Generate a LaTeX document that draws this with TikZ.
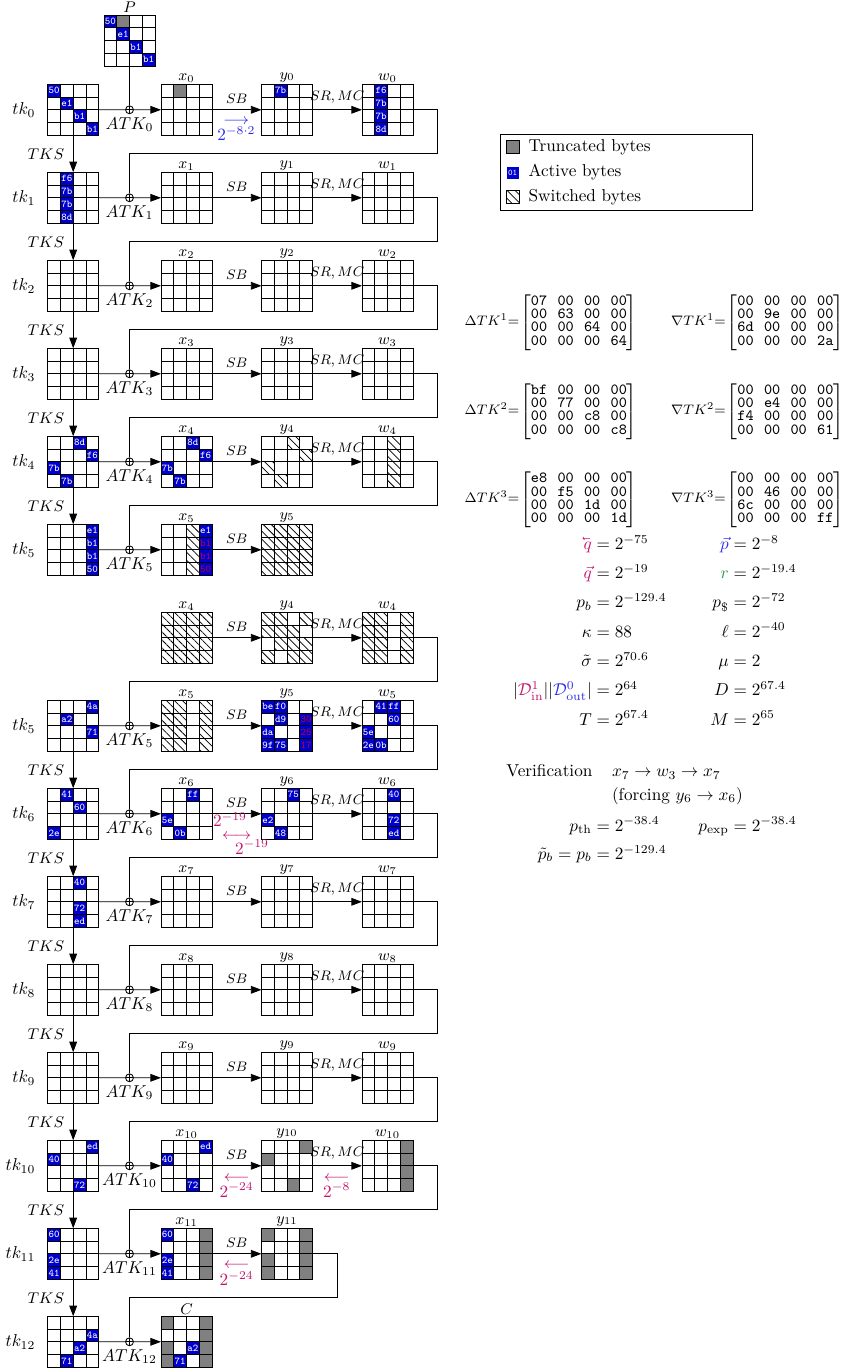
\documentclass[tikz,border=0pt]{standalone}
\usepackage{amsmath}
\usepackage{amssymb}
\usetikzlibrary{positioning, calc, arrows.meta, patterns.meta, backgrounds}
\definecolor{activeBlue}{RGB}{0,0,205}
\definecolor{truncGray}{RGB}{128,128,128}
\definecolor{probMagenta}{RGB}{196,20,110}
\definecolor{probBlue}{RGB}{45,45,235}
\definecolor{probGreen}{RGB}{40,150,80}
\definecolor{byteRed}{RGB}{190,0,45}

\newcommand{\cs}{12.75}
% 4x4 state: name, left, top
\newcommand{\stgrid}[3]{%
  \node[stbox, anchor=north west] (#1) at (#2,#3) {};
  \foreach \k in {1,2,3}{%
    \draw[gridln] ($(#1.north west)+(\k*\cs,0)$) -- ++(0,4*\cs);
    \draw[gridln] ($(#1.north west)+(0,\k*\cs)$) -- ++(4*\cs,0);
  }%
}
% cells: grid, col, row (, text)
\newcommand{\abyte}[4]{\begin{pgfonlayer}{background}
  \node[actb, anchor=north west] (#1b#2#3) at ($(#1.north west)+(#2*\cs,#3*\cs)$) {#4};
  \end{pgfonlayer}}
\newcommand{\rbyte}[4]{\begin{pgfonlayer}{background}
  \node[actb, text=byteRed, anchor=north west] (#1b#2#3) at ($(#1.north west)+(#2*\cs,#3*\cs)$) {#4};
  \end{pgfonlayer}}
\newcommand{\tbyte}[3]{\begin{pgfonlayer}{background}
  \fill[truncGray] ($(#1.north west)+(#2*\cs,#3*\cs)$) rectangle ++(\cs,\cs);
  \end{pgfonlayer}}
\newcommand{\sbyte}[3]{\begin{pgfonlayer}{background}
  \fill[hatch] ($(#1.north west)+(#2*\cs,#3*\cs)$) rectangle ++(\cs,\cs);
  \end{pgfonlayer}}
\newcommand{\abytes}[2]{\foreach \cl/\rw/\bt in {#2}{\abyte{#1}{\cl}{\rw}{\bt}}}
\newcommand{\rbytes}[2]{\foreach \cl/\rw/\bt in {#2}{\rbyte{#1}{\cl}{\rw}{\bt}}}
\newcommand{\tbytes}[2]{\foreach \cl/\rw in {#2}{\tbyte{#1}{\cl}{\rw}}}
\newcommand{\sbytes}[2]{\foreach \cl/\rw in {#2}{\sbyte{#1}{\cl}{\rw}}}
% tweakey row start: row, round, top, label of x
\newcommand{\keyrow}[4]{%
  \stgrid{tk#1}{47.7}{#3}
  \node[tklbl, left=6pt of tk#1] (tkl#1) {$tk_{#2}$};
  \node[xorb] (xr#1) at (129.5,#3+25.5) {};
  \node[atk, below=0.8pt of xr#1] (atk#1) {$ATK_{#2}$};
  \stgrid{x#1}{161}{#3}
  \node[lbl, above=0pt of x#1] (xl#1) {#4};
  \draw[link] (tk#1) -- (xr#1);
  \draw[arr] (xr#1) -- (x#1);
}
\newcommand{\mrow}[4]{\mathtt{#1}&\mathtt{#2}&\mathtt{#3}&\mathtt{#4}}
\newcommand{\lvecq}{\reflectbox{$\vec{\reflectbox{$q$}}$}}

\begin{document}
\begin{tikzpicture}[x=0.5814pt, y=-0.5814pt,
    stbox/.style={draw, line width=0.5pt, minimum size=29.65pt, inner sep=0pt, outer sep=0pt},
    gridln/.style={line width=0.4pt},
    actb/.style={fill=activeBlue, text=white, minimum size=7.41pt, inner sep=0pt, outer sep=0pt,
      font=\fontsize{6}{6}\selectfont\ttfamily},
    lbl/.style={font=\small, inner sep=1pt},
    tklbl/.style={inner sep=1pt},
    atk/.style={inner sep=1pt},
    oplbl/.style={font=\footnotesize},
    tks/.style={font=\small, inner sep=1pt},
    xorb/.style={circle, draw, line width=0.5pt, minimum size=4.6pt, inner sep=0pt,
      path picture={\draw[line width=0.4pt] (path picture bounding box.north) -- (path picture bounding box.south)
        (path picture bounding box.west) -- (path picture bounding box.east);}},
    arr/.style={-{Triangle[length=6.2pt,width=4.5pt]}, line width=0.5pt},
    link/.style={line width=0.5pt},
    hatch/.style={pattern={Lines[angle=-45,distance=3.3pt,line width=0.45pt]}},
    pr/.style={text=probMagenta, inner sep=0pt},
    keysq/.style={minimum size=7.2pt, inner sep=0pt},
    keytxt/.style={inner sep=0pt, anchor=base west},
    matlbl/.style={font=\footnotesize, inner sep=0pt, anchor=base east},
    mat/.style={font=\small, inner sep=0pt, anchor=west,
      execute at begin node={\def\arraystretch{0.7}\setlength{\arraycolsep}{3.0pt}}},
    eqn/.style={inner sep=0pt, anchor=base west}
  ]
  \useasboundingbox (0,0) rectangle (845,1369);

  % plaintext
  \stgrid{P}{104}{15}
  \node[lbl, above=0pt of P] (Pl) {$P$};

  % full rounds
  \foreach \j/\i in {0/0,1/1,2/2,3/3,4/4,7/5,8/6,9/7,10/8,11/9,12/10}{
    \pgfmathsetmacro{\ty}{84.3+88*\j}
    \keyrow{\j}{\i}{\ty}{$x_{\i}$}
    \stgrid{y\j}{261.5}{\ty}
    \node[lbl, above=0pt of y\j] (yl\j) {$y_{\i}$};
    \stgrid{w\j}{362}{\ty}
    \node[lbl, above=0pt of w\j] (wl\j) {$w_{\i}$};
    \draw[arr] (x\j) -- node[oplbl, above] (sb\j) {$SB$} (y\j);
    \draw[arr] (y\j) -- node[oplbl, above] (mc\j) {$SR,MC$} (w\j);
  }

  % round 5 (upper part)
  \keyrow{5}{5}{524.3}{$x_5$}
  \stgrid{y5}{261.5}{524.3}
  \node[lbl, above=0pt of y5] (yl5) {$y_5$};
  \draw[arr] (x5) -- node[oplbl, above] (sb5) {$SB$} (y5);

  % round 4 again (lower part)
  \stgrid{x6}{161}{612.3}
  \node[lbl, above=0pt of x6] (xl6) {$x_4$};
  \stgrid{y6}{261.5}{612.3}
  \node[lbl, above=0pt of y6] (yl6) {$y_4$};
  \stgrid{w6}{362}{612.3}
  \node[lbl, above=0pt of w6] (wl6) {$w_4$};
  \draw[arr] (x6) -- node[oplbl, above] (sb6) {$SB$} (y6);
  \draw[arr] (y6) -- node[oplbl, above] (mc6) {$SR,MC$} (w6);

  % rounds 11 and 12
  \keyrow{13}{11}{1228.3}{$x_{11}$}
  \stgrid{y13}{261.5}{1228.3}
  \node[lbl, above=0pt of y13] (yl13) {$y_{11}$};
  \draw[arr] (x13) -- node[oplbl, above] (sb13) {$SB$} (y13);
  \keyrow{14}{12}{1316.3}{$C$}

  % wiring
  \draw[link] (P) -- (xr0);
  \foreach \j in {0,1,2,3,4,6,7,8,9,10,11,12}{
    \pgfmathtruncatemacro{\k}{\j+1}
    \draw[link] (w\j.east) -| ($(w\j.east)+(24.7,43.5)$) -| (xr\k);
  }
  \draw[link] (y13.east) -| ($(y13.east)+(25.2,43.5)$) -| (xr14);
  \foreach \j in {0,1,2,3,4,7,8,9,10,11,12,13}{
    \pgfmathtruncatemacro{\k}{\j+1}
    \draw[arr] (tk\j) -- node[tks, left=4pt] (tks\j) {$TKS$} (tk\k);
  }

  % bytes
  \abytes{P}{0/0/50,1/1/e1,2/2/b1,3/3/b1}
  \tbyte{P}{1}{0}
  \abytes{tk0}{0/0/50,1/1/e1,2/2/b1,3/3/b1}
  \tbyte{x0}{1}{0}
  \abyte{y0}{1}{0}{7b}
  \abytes{w0}{1/0/f6,1/1/7b,1/2/7b,1/3/8d}
  \abytes{tk1}{1/0/f6,1/1/7b,1/2/7b,1/3/8d}
  \abytes{tk4}{2/0/8d,3/1/f6,0/2/7b,1/3/7b}
  \abytes{x4}{2/0/8d,3/1/f6,0/2/7b,1/3/7b}
  \sbytes{y4}{2/0,3/1,0/2,1/3}
  \sbytes{w4}{2/0,2/1,2/2,2/3}
  \abytes{tk5}{3/0/e1,3/1/b1,3/2/b1,3/3/50}
  \sbytes{x5}{2/0,2/1,2/2,2/3}
  \abyte{x5}{3}{0}{e1}
  \rbytes{x5}{3/1/b1,3/2/b1,3/3/50}
  \foreach \cc in {0,1,2,3}{\sbytes{y5}{\cc/0,\cc/1,\cc/2,\cc/3}}
  \foreach \cc in {0,1,2,3}{\sbytes{x6}{\cc/0,\cc/1,\cc/2,\cc/3}}
  \sbytes{y6}{0/0,1/0,3/0,0/1,1/1,2/1,1/2,2/2,3/2,0/3,2/3,3/3}
  \foreach \cc in {0,1,3}{\sbytes{w6}{\cc/0,\cc/1,\cc/2,\cc/3}}
  \abytes{tk7}{3/0/4a,1/1/a2,3/2/71}
  \foreach \cc in {0,1,3}{\sbytes{x7}{\cc/0,\cc/1,\cc/2,\cc/3}}
  \abytes{y7}{0/0/be,1/0/f0,1/1/d9,0/2/da,0/3/9f,1/3/75}
  \rbytes{y7}{3/1/30,3/2/25,3/3/17}
  \abytes{w7}{1/0/41,2/0/ff,2/1/60,0/2/5e,0/3/2e,1/3/0b}
  \abytes{tk8}{1/0/41,2/1/60,0/3/2e}
  \abytes{x8}{2/0/ff,0/2/5e,1/3/0b}
  \abytes{y8}{2/0/75,0/2/e2,1/3/48}
  \abytes{w8}{2/0/40,2/2/72,2/3/ed}
  \abytes{tk9}{2/0/40,2/2/72,2/3/ed}
  \abytes{tk12}{3/0/ed,0/1/40,2/3/72}
  \abytes{x12}{3/0/ed,0/1/40,2/3/72}
  \tbytes{y12}{3/0,0/1,2/3}
  \tbytes{w12}{3/0,3/1,3/2,3/3}
  \abytes{tk13}{0/0/60,0/2/2e,0/3/41}
  \abytes{x13}{0/0/60,0/2/2e,0/3/41}
  \tbytes{x13}{3/0,3/1,3/2,3/3}
  \tbytes{y13}{0/0,0/2,0/3,3/0,3/1,3/2,3/3}
  \abytes{tk14}{3/1/4a,2/2/a2,1/3/71}
  \tbytes{x14}{0/0,0/2,0/3,3/0,3/1,3/2,3/3}
  \abytes{x14}{2/2/a2,1/3/71}

  % probabilities on the trail
  \node[inner sep=0pt, font=\small, text=probBlue] (ar0) at (236.3,121.7) {$\longrightarrow$};
  \node[inner sep=0pt, text=probBlue, anchor=base] (pl0) at (236.3,140.8) {$2^{-8\cdot 2}$};
  \node[pr, anchor=base] (pl8a) at (230,826.7) {$2^{-19}$};
  \node[pr, font=\small] (ar8) at (236.7,836.7) {$\longleftrightarrow$};
  \node[pr, anchor=base] (pl8b) at (252,854) {$2^{-19}$};
  \node[pr, font=\small] (ar12a) at (236.7,1178.3) {$\longleftarrow$};
  \node[pr, anchor=base] (pl12a) at (236.7,1197) {$2^{-24}$};
  \node[pr, font=\small] (ar12b) at (336.7,1178.3) {$\longleftarrow$};
  \node[pr, anchor=base] (pl12b) at (336.7,1197) {$2^{-8}$};
  \node[pr, font=\small] (ar13) at (236.7,1266) {$\longleftarrow$};
  \node[pr, anchor=base] (pl13) at (236.7,1285.5) {$2^{-24}$};

  % legend
  \node[draw, line width=0.5pt, anchor=north west, minimum width=146.7pt, minimum height=44.2pt, inner sep=0pt] (legend) at (500,134) {};
  \node[keysq, draw, fill=truncGray] (keyT) at (512.7,147) {};
  \node[keytxt] (keyTt) at (528.3,151.7) {Truncated bytes};
  \node[actb, minimum size=7.2pt, font=\fontsize{5}{5}\selectfont\ttfamily] (keyA) at (512.7,172.7) {01};
  \node[keytxt] (keyAt) at (528.3,176.7) {Active bytes};
  \node[keysq, draw, hatch] (keyS) at (512.7,196.7) {};
  \node[keytxt] (keySt) at (528.3,201.7) {Switched bytes};

  % tweakey differences
  \node[matlbl] (dtk1l) at (519.5,325) {$\Delta TK^1{=}$};
  \node[mat] (dtk1) at (520,322.5) {$\begin{bmatrix}\mrow{07}{00}{00}{00}\\\mrow{00}{63}{00}{00}\\\mrow{00}{00}{64}{00}\\\mrow{00}{00}{00}{64}\end{bmatrix}$};
  \node[matlbl] (ntk1l) at (726,325) {$\nabla TK^1{=}$};
  \node[mat] (ntk1) at (726.5,322.5) {$\begin{bmatrix}\mrow{00}{00}{00}{00}\\\mrow{00}{9e}{00}{00}\\\mrow{6d}{00}{00}{00}\\\mrow{00}{00}{00}{2a}\end{bmatrix}$};
  \node[matlbl] (dtk2l) at (519.5,414) {$\Delta TK^2{=}$};
  \node[mat] (dtk2) at (520,411.5) {$\begin{bmatrix}\mrow{bf}{00}{00}{00}\\\mrow{00}{77}{00}{00}\\\mrow{00}{00}{c8}{00}\\\mrow{00}{00}{00}{c8}\end{bmatrix}$};
  \node[matlbl] (ntk2l) at (726,414) {$\nabla TK^2{=}$};
  \node[mat] (ntk2) at (726.5,411.5) {$\begin{bmatrix}\mrow{00}{00}{00}{00}\\\mrow{00}{e4}{00}{00}\\\mrow{f4}{00}{00}{00}\\\mrow{00}{00}{00}{61}\end{bmatrix}$};
  \node[matlbl] (dtk3l) at (519.5,502.5) {$\Delta TK^3{=}$};
  \node[mat] (dtk3) at (520,500) {$\begin{bmatrix}\mrow{e8}{00}{00}{00}\\\mrow{00}{f5}{00}{00}\\\mrow{00}{00}{1d}{00}\\\mrow{00}{00}{00}{1d}\end{bmatrix}$};
  \node[matlbl] (ntk3l) at (726,502.5) {$\nabla TK^3{=}$};
  \node[mat] (ntk3) at (726.5,500) {$\begin{bmatrix}\mrow{00}{00}{00}{00}\\\mrow{00}{46}{00}{00}\\\mrow{6c}{00}{00}{00}\\\mrow{00}{00}{00}{ff}\end{bmatrix}$};

  % complexities
  \node[eqn] (eqL1) at (591.5,549.3) {$\llap{$\textcolor{probMagenta}{\lvecq}$}{}=2^{-75}$};
  \node[eqn] (eqR1) at (728.5,549.3) {$\llap{$\textcolor{probBlue}{\vec{p}}$}{}=2^{-8}$};
  \node[eqn] (eqL2) at (591.5,578.6) {$\llap{$\textcolor{probMagenta}{\vec{q}}$}{}=2^{-19}$};
  \node[eqn] (eqR2) at (728.5,578.6) {$\llap{$\textcolor{probGreen}{r}$}{}=2^{-19.4}$};
  \node[eqn] (eqL3) at (591.5,607.9) {$\llap{$p_b$}{}=2^{-129.4}$};
  \node[eqn] (eqR3) at (728.5,607.9) {$\llap{$p_{\$}$}{}=2^{-72}$};
  \node[eqn] (eqL4) at (591.5,637.2) {$\llap{$\kappa$}{}=88$};
  \node[eqn] (eqR4) at (728.5,637.2) {$\llap{$\ell$}{}=2^{-40}$};
  \node[eqn] (eqL5) at (591.5,666.5) {$\llap{$\tilde{\sigma}$}{}=2^{70.6}$};
  \node[eqn] (eqR5) at (728.5,666.5) {$\llap{$\mu$}{}=2$};
  \node[eqn] (eqL6) at (591.5,695.8) {$\llap{$|\textcolor{probMagenta}{\mathcal{D}^1_{\mathrm{in}}}||\textcolor{probBlue}{\mathcal{D}^0_{\mathrm{out}}}|$}{}=2^{64}$};
  \node[eqn] (eqR6) at (728.5,695.8) {$\llap{$D$}{}=2^{67.4}$};
  \node[eqn] (eqL7) at (591.5,725.1) {$\llap{$T$}{}=2^{67.4}$};
  \node[eqn] (eqR7) at (728.5,725.1) {$\llap{$M$}{}=2^{65}$};

  % verification
  \node[eqn] (verif) at (506,776.5) {Verification};
  \node[eqn] (verifa) at (611.7,776.5) {$x_7 \rightarrow w_3 \rightarrow x_7$};
  \node[eqn] (verifb) at (611.7,800.3) {(forcing $y_6 \rightarrow x_6$)};
  \node[eqn] (pth) at (591.5,831) {$\llap{$p_{\mathrm{th}}$}{}=2^{-38.4}$};
  \node[eqn] (pexp) at (728.5,831) {$\llap{$p_{\mathrm{exp}}$}{}=2^{-38.4}$};
  \node[eqn] (pbt) at (591.5,859.3) {$\llap{$\tilde{p}_b = p_b$}{}=2^{-129.4}$};
\end{tikzpicture}
\end{document}
